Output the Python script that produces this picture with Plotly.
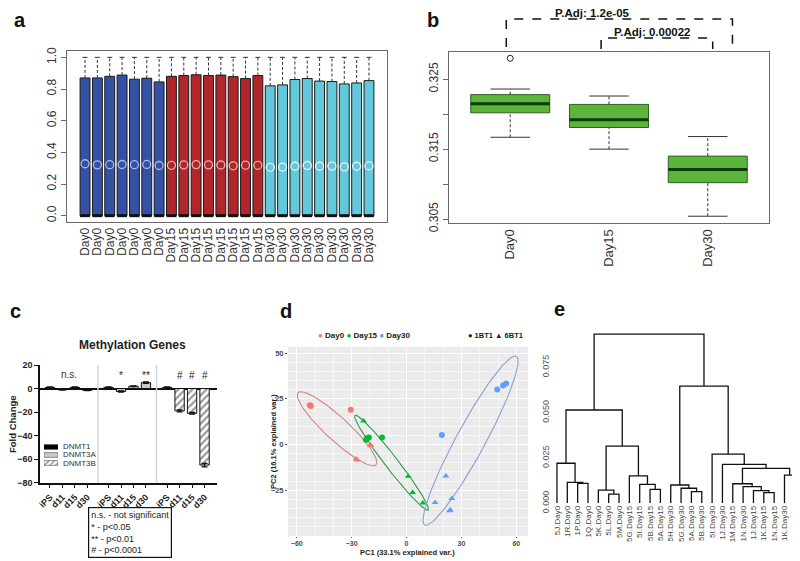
import numpy as np
import plotly.graph_objects as go

# the page body keeps its default 8px margin, so the figure is drawn 8px in
OFF = 8
W, H = 800 - OFF, 561 - OFF
FONT = "Liberation Sans, Arial, Helvetica, sans-serif"


def fx(p):  # window pixel x -> paper
    return (p - OFF) / W


def fy(p):  # window pixel y (from top) -> paper
    return 1 - (p - OFF) / H


# -----------------------------------------------------------------------------
# data
# -----------------------------------------------------------------------------
# a : per-sample beta-value boxplots
a_labels = ["Day0"] * 7 + ["Day15"] * 8 + ["Day30"] * 9
a_q1 = [0.0] * 24
a_median = [0.0] * 24
a_q3 = [0.870, 0.870, 0.880, 0.888, 0.862, 0.868, 0.845,
        0.880, 0.885, 0.890, 0.885, 0.888, 0.878, 0.866, 0.885,
        0.820, 0.826, 0.860, 0.866, 0.850, 0.847, 0.832, 0.838, 0.853]
a_lower = [0.0] * 24
a_upper = [1.0] * 24
a_mean = [0.328, 0.321, 0.322, 0.323, 0.322, 0.3236, 0.3167,
          0.318, 0.321, 0.3226, 0.321, 0.320, 0.315, 0.319, 0.318,
          0.3054, 0.307, 0.312, 0.3168, 0.312, 0.313, 0.308, 0.312, 0.314]
a_fill = {"Day0": "#3551a4", "Day15": "#b1262a", "Day30": "#62c8da"}
a_mean_col = {"Day0": "#a9b8ec", "Day15": "#eeaaaa", "Day30": "#e4f6fa"}

# b : mean methylation per day
b_groups = ["Day0", "Day15", "Day30"]
b_lower = [0.3167, 0.3150, 0.3054]
b_q1 = [0.3202, 0.3181, 0.3102]
b_median = [0.3215, 0.3192, 0.3121]
b_q3 = [0.3228, 0.3214, 0.3140]
b_upper = [0.3236, 0.3226, 0.3168]
b_out_group = ["Day0"]
b_out_value = [0.3280]
b_tests = [("Day0", "Day30", "P.Adj: 1.2e-05"), ("Day15", "Day30", "P.Adj: 0.00022")]

# c : methylation genes fold change
c_genes = ["DNMT1", "DNMT3A", "DNMT3B"]
c_stages = ["iPS", "d11", "d15", "d30"]
c_dnmt1 = [1.0, -1.0, 1.0, -1.5]
c_dnmt3a = [1.0, -2.5, 2.0, 5.0]
c_dnmt3b = [1.0, -19.0, -21.0, -65.0]
c_err1 = [0.3, 0.3, 0.3, 0.3]
c_err3a = [0.3, 0.6, 0.3, 0.6]
c_err3b = [0.3, 0.8, 0.8, 1.5]
c_sig1 = "n.s."
c_sig3a = ["", "*", "", "**"]
c_sig3b = ["", "#", "#", "#"]

# d : PCA
d_pc1 = [-52.9, -52.3, -30.5, -27.6, -27.0, -19.4, -19.9,
         -23.5, -22.2, -21.4, -20.6, -13.4, 0.9, 3.3, 8.9,
         49.6, 52.8, 54.4, 19.3, 21.5, 15.6, 24.8, 23.5, 23.9]
d_pc2 = [21.5, 21.0, 19.0, -7.9, -8.4, -0.6, -0.2,
         12.8, 2.6, 3.4, 3.9, 3.8, -17.3, -26.2, -31.9,
         30.1, 32.3, 33.3, 5.2, -17.2, -31.7, -29.5, -36.2, -35.8]
d_day = ["Day0"] * 7 + ["Day15"] * 8 + ["Day30"] * 9
d_batch = ["1BT1", "1BT1", "1BT1", "6BT1", "6BT1", "6BT1", "6BT1",
           "6BT1", "1BT1", "1BT1", "1BT1", "1BT1", "6BT1", "6BT1", "6BT1",
           "1BT1", "1BT1", "1BT1", "1BT1", "6BT1", "6BT1", "6BT1", "6BT1", "6BT1"]
d_days = ["Day0", "Day15", "Day30"]
d_colors = {"Day0": "#F8766D", "Day15": "#00BA38", "Day30": "#619CFF"}
d_ell_colors = {"Day0": "#d4877f", "Day15": "#2e9b4a", "Day30": "#86a2d2"}
# ellipse: centre and two conjugate half-axes (PC units)
d_ell_cx = [-38.0, -8.2, 35.0]
d_ell_cy = [8.6, -9.9, 2.1]
d_ell_ux = [-21.3, -20.0, 25.0]
d_ell_uy = [19.7, 25.9, 46.1]
d_ell_vx = [4.4, 2.8, 7.0]
d_ell_vy = [4.6, 2.1, -3.7]

# e : hierarchical clustering
e_leaves = ["5J.Day0", "1R.Day0", "1P.Day0", "1Q.Day0", "5K.Day0", "5L.Day0", "5M.Day0",
            "5G.Day15", "5I.Day15", "5B.Day15", "5A.Day15", "5H.Day30", "5G.Day30",
            "5A.Day30", "5B.Day30", "5I.Day30", "1J.Day30", "1M.Day15", "1N.Day30",
            "1J.Day15", "1K.Day15", "1N.Day15", "1K.Day30", "1M.Day30"]
# merges, hclust style: negative = leaf (1-based order), positive = earlier merge
e_merge = [(-6, -7), (-21, -22), (-14, -15), (-20, 2), (-5, 1), (-10, -11),
           (-13, 3), (-19, 4), (-12, 7), (-9, 6), (-3, -4), (-18, 8), (-2, 11),
           (-8, 10), (-23, -24), (12, 15), (-17, 16), (-1, 13), (-16, 17),
           (5, 14), (18, 20), (9, 19), (21, 22)]
e_height = [0.0051, 0.0059, 0.0064, 0.0070, 0.0073, 0.0077, 0.0083, 0.0092,
            0.0101, 0.0105, 0.0110, 0.0108, 0.0116, 0.0151, 0.0156, 0.0193,
            0.0215, 0.0221, 0.0272, 0.0316, 0.0515, 0.0647, 0.0934]

fig = go.Figure()


def note(x, y, text, size, color="#222", **kw):
    # paper-placed text; anchors given explicitly so plotly's "auto" does not move it
    opts = dict(xanchor="center", yanchor="middle")
    opts.update(kw)
    fig.add_annotation(x=fx(x), y=fy(y), xref="paper", yref="paper", text=text, showarrow=False,
                       font=dict(size=size, color=color), **opts)


def add_boxes(xs, lo, q1, med, q3, hi, fill, edge, med_col, med_w, width, xa, ya):
    fig.add_trace(go.Bar(x=xs, y=[b - a for a, b in zip(q1, q3)], base=q1, width=width,
                         marker=dict(color=fill, line=dict(color=edge, width=1)),
                         xaxis=xa, yaxis=ya, showlegend=False, hoverinfo="skip"))
    wx, wy, cx, cy, mx, my = [], [], [], [], [], []
    for x, a, b, m, c, d in zip(xs, lo, q1, med, q3, hi):
        wx += [x, x, None, x, x, None]
        wy += [a, b, None, c, d, None]
        cx += [x - width / 4, x + width / 4, None, x - width / 4, x + width / 4, None]
        cy += [a, a, None, d, d, None]
        mx += [x - width / 2, x + width / 2, None]
        my += [m, m, None]
    fig.add_trace(go.Scatter(x=wx, y=wy, mode="lines", line=dict(color="#333", width=1, dash="3px,2px"),
                             xaxis=xa, yaxis=ya, showlegend=False, hoverinfo="skip"))
    fig.add_trace(go.Scatter(x=cx, y=cy, mode="lines", line=dict(color="#333", width=1),
                             xaxis=xa, yaxis=ya, showlegend=False, hoverinfo="skip"))
    fig.add_trace(go.Scatter(x=mx, y=my, mode="lines", line=dict(color=med_col, width=med_w),
                             xaxis=xa, yaxis=ya, showlegend=False, hoverinfo="skip"))


# ---- a
a_x = list(range(1, len(a_labels) + 1))
add_boxes(a_x, a_lower, a_q1, a_median, a_q3, a_upper, [a_fill[g] for g in a_labels],
          "#1a1a1a", "#111", 3, 0.8, "x", "y")
fig.add_trace(go.Scatter(x=a_x, y=a_mean, mode="markers",
                         marker=dict(symbol="circle-open", size=8, line=dict(width=1.3),
                                     color=[a_mean_col[g] for g in a_labels]),
                         xaxis="x", yaxis="y", showlegend=False, hoverinfo="skip"))

# ---- b
b_x = [1, 2, 3]
add_boxes(b_x, b_lower, b_q1, b_median, b_q3, b_upper, "#5cb53a", "#2f5f22", "#0c3a0c", 3,
          0.8, "x2", "y2")
fig.add_trace(go.Scatter(x=[b_groups.index(g) + 1 for g in b_out_group], y=b_out_value,
                         mode="markers", marker=dict(symbol="circle-open", size=6, color="#222",
                                                     line=dict(width=1)),
                         xaxis="x2", yaxis="y2", showlegend=False, hoverinfo="skip"))
# (left offset, right offset, label offset from left group, bracket top px, leg bottom px)
bracket_px = [(-0.04, 0.25, 0.83, 19, 47), (-0.08, 0.05, 0.44, 38, 49)]
for (g1, g2, txt), (o1, o2, ol, top, leg) in zip(b_tests, bracket_px):
    x0 = b_groups.index(g1) + 1 + o1
    x1 = b_groups.index(g2) + 1 + o2
    fig.add_shape(type="path", xref="x2", yref="paper",
                  path=f"M {x0} {fy(leg)} L {x0} {fy(top)} L {x1} {fy(top)} L {x1} {fy(leg)}",
                  line=dict(color="#111", width=1.5, dash="dash"))
    fig.add_annotation(x=b_groups.index(g1) + 1 + ol, y=fy(top + 2), xref="x2", yref="paper",
                       xanchor="center", yanchor="bottom", text=f"<b>{txt}</b>", showarrow=False,
                       font=dict(size=11.5, color="#111"))

# ---- c
c_pos = [[g * 4.7 + i for i in range(len(c_stages))] for g in range(len(c_genes))]
c_vals = [c_dnmt1, c_dnmt3a, c_dnmt3b]
c_errs = [c_err1, c_err3a, c_err3b]
c_cols = ["#000000", "#c9c9c9", "#ffffff"]
c_pats = ["", "", "/"]
for g, gene in enumerate(c_genes):
    fig.add_trace(go.Bar(x=c_pos[g], y=c_vals[g], width=0.75, name=gene,
                         marker=dict(color=c_cols[g], line=dict(color="#111", width=1),
                                     pattern=dict(shape=c_pats[g], fgcolor="#333", size=5, solidity=0.45)),
                         error_y=dict(type="data", array=c_errs[g], color="#111", thickness=1.3, width=3),
                         xaxis="x3", yaxis="y3", showlegend=False, hoverinfo="skip"))
for g in range(len(c_genes) - 1):
    sep = (c_pos[g][-1] + c_pos[g + 1][0]) / 2
    fig.add_shape(type="line", xref="x3", yref="y3 domain", x0=sep, x1=sep, y0=0, y1=1,
                  line=dict(color="#d4d4d4", width=1.5))
fig.add_annotation(x=(c_pos[0][1] + c_pos[0][2]) / 2, y=12, xref="x3", yref="y3", text=c_sig1,
                   showarrow=False, font=dict(size=10, color="#333"))
for g, sig in ((1, c_sig3a), (2, c_sig3b)):
    for x, s in zip(c_pos[g], sig):
        if s:
            fig.add_annotation(x=x, y=11, xref="x3", yref="y3", text=s, showarrow=False,
                               font=dict(size=10, color="#222"))
# legend swatches
fig.add_trace(go.Bar(x=[1, 1, 1], y=[0, 1, 2], orientation="h", width=0.6,
                     marker=dict(color=["#000000", "#c9c9c9", "#ffffff"], line=dict(color="#333", width=0.5),
                                 pattern=dict(shape=c_pats, fgcolor="#333", size=4, solidity=0.45)),
                     xaxis="x6", yaxis="y6", showlegend=False, hoverinfo="skip"))
for k, gene in enumerate(c_genes):
    note(61, 447 + 8 * k, gene, 8, "#333", xanchor="left")
note(132, 345, "<b>Methylation Genes</b>", 12)
note(12, 424, "<b>Fold Change</b>", 9.5, textangle=-90)
note(88, 507, "n.s. - not significant<br>* - p&lt;0.05<br>** - p&lt;0.01<br># - p&lt;0.0001", 9,
     xanchor="left", yanchor="top", align="left", bordercolor="#111", borderwidth=1.2, borderpad=2,
     bgcolor="white")

# ---- d
fig.add_shape(type="rect", xref="x4 domain", yref="y4 domain", x0=0, x1=1, y0=0, y1=1,
              fillcolor="#ebebeb", line=dict(width=0), layer="below")
t = np.linspace(0, 2 * np.pi, 120)
for k, day in enumerate(d_days):
    ex = d_ell_cx[k] + np.cos(t) * d_ell_ux[k] + np.sin(t) * d_ell_vx[k]
    ey = d_ell_cy[k] + np.cos(t) * d_ell_uy[k] + np.sin(t) * d_ell_vy[k]
    fig.add_trace(go.Scatter(x=ex, y=ey, mode="lines", line=dict(color=d_ell_colors[day], width=1.1),
                             xaxis="x4", yaxis="y4", showlegend=False, hoverinfo="skip"))
fig.add_trace(go.Scatter(x=d_pc1, y=d_pc2, mode="markers",
                         marker=dict(size=6, color=[d_colors[d] for d in d_day],
                                     symbol=["circle" if b == "1BT1" else "triangle-up" for b in d_batch]),
                         xaxis="x4", yaxis="y4", showlegend=False, hoverinfo="skip"))
leg = " ".join(f"<span style='color:{d_colors[d]}'>●</span> {d}" for d in d_days)
note(316, 335, f"<b>{leg}</b>", 8, xanchor="left")
note(466, 335, "<b>● 1BT1 ▲ 6BT1</b>", 7.5, xanchor="left")
note(407, 552.5, "<b>PC1 (33.1% explained var.)</b>", 7.5)
note(273, 442, "<b>PC2 (16.1% explained var.)</b>", 7.5, textangle=-90)

# ---- e
n = len(e_leaves)
node_x, node_h = [], []
lx, ly = [], []


def pos(ref):
    if ref < 0:
        return float(-ref), 0.0
    return node_x[ref - 1], node_h[ref - 1]


for (r1, r2), h in zip(e_merge, e_height):
    x1, h1 = pos(r1)
    x2, h2 = pos(r2)
    lx += [x1, x1, x2, x2, None]
    ly += [h1, h, h, h2, None]
    node_x.append((x1 + x2) / 2)
    node_h.append(h)
fig.add_trace(go.Scatter(x=lx, y=ly, mode="lines", line=dict(color="#111", width=1.3),
                         xaxis="x5", yaxis="y5", showlegend=False, hoverinfo="skip"))

# panel letters (kept just inside the drawable area)
for letter, (x, y) in zip("abcde", [(20, 20), (433, 20), (15, 311), (286, 311), (559, 309)]):
    note(x, y, f"<b>{letter}</b>", 20, "#111", borderpad=0)

r_axis = dict(showline=True, mirror=True, linecolor="#6a6a6a", linewidth=1, showgrid=False,
              zeroline=False, automargin=False, tickfont=dict(size=12, color="#333"))
fig.update_layout(
    width=W, height=H, margin=dict(l=0, r=0, t=0, b=0, autoexpand=False),
    paper_bgcolor="white", plot_bgcolor="white", barmode="overlay", showlegend=False,
    font=dict(family=FONT, color="#222"),
    xaxis=dict(r_axis, domain=[fx(67), fx(387)], range=[-0.46, 25.46], tickvals=a_x, ticktext=a_labels,
               tickangle=-90, ticks="", anchor="y"),
    yaxis=dict(r_axis, domain=[fy(222), fy(51)], range=[-0.04, 1.04], tickvals=[0, 0.2, 0.4, 0.6, 0.8, 1.0],
               ticktext=["0.0", "0.2", "0.4", "0.6", "0.8", "1.0"], tickangle=-90, ticks="outside",
               ticklen=5, tickcolor="#6a6a6a", anchor="x"),
    xaxis2=dict(r_axis, domain=[fx(449), fx(769)], range=[0.38, 3.62], tickvals=b_x, ticktext=b_groups,
                tickangle=-90, ticks="", anchor="y2", tickfont=dict(size=13, color="#333")),
    yaxis2=dict(r_axis, domain=[fy(223), fy(52)], range=[0.30443, 0.3289],
                tickvals=[0.305, 0.310, 0.315, 0.320, 0.325], ticktext=["0.305", "", "0.315", "", "0.325"],
                tickangle=-90, ticks="outside", ticklen=5, tickcolor="#6a6a6a", anchor="x2"),
    xaxis3=dict(domain=[fx(40), fx(217)], range=[-0.8, 13.4], tickvals=sum(c_pos, []),
                ticktext=c_stages * len(c_genes), tickangle=-45, ticks="outside", ticklen=4, tickwidth=1.3,
                tickcolor="#111", showline=True, linecolor="#111", linewidth=1.5, showgrid=False,
                zeroline=False, automargin=False, tickfont=dict(size=9, color="#222", weight="bold"),
                anchor="y3"),
    yaxis3=dict(domain=[fy(482.7), fy(365)], range=[-80, 20], tickvals=[-80, -60, -40, -20, 0, 20],
                ticks="outside", ticklen=4, tickwidth=1.3, tickcolor="#111", showline=True, linecolor="#111",
                linewidth=1.5, showgrid=False, zeroline=True, zerolinecolor="#111", zerolinewidth=1.5,
                automargin=False, tickfont=dict(size=9, color="#222", weight="bold"), anchor="x3"),
    xaxis4=dict(domain=[fx(288), fx(528)], range=[-64.8, 66.4], tickvals=[-60, -30, 0, 30, 60],
                ticks="outside", ticklen=1, tickcolor="#555", showline=False, zeroline=False,
                gridcolor="white", gridwidth=1, minor=dict(showgrid=True, gridcolor="#f6f6f6", gridwidth=0.6),
                automargin=False, tickfont=dict(size=7, color="#4d4d4d", weight="bold"), anchor="y4"),
    yaxis4=dict(domain=[fy(536), fy(347)], range=[-50, 53.3], tickvals=[-25, 0, 25, 50],
                ticks="outside", ticklen=2, tickcolor="#555", showline=False, zeroline=False,
                gridcolor="white", gridwidth=1, minor=dict(showgrid=True, gridcolor="#f6f6f6", gridwidth=0.6),
                automargin=False, tickfont=dict(size=7.5, color="#4d4d4d", weight="bold"), anchor="x4"),
    xaxis5=dict(domain=[fx(551.8), 1.0], range=[0.5, n + 0.5], tickvals=list(range(1, n + 1)),
                ticktext=e_leaves, tickangle=-90, ticks="", showline=False, showgrid=False, zeroline=False,
                automargin=False, tickfont=dict(size=8, color="#444"), anchor="y5"),
    yaxis5=dict(domain=[fy(503.3), fy(331.2)], range=[0, 0.095], tickvals=[0, 0.025, 0.05, 0.075],
                ticktext=["0.000", "0.025", "0.050", "0.075"], tickangle=-90, ticks="", showline=False,
                showgrid=False, zeroline=False, automargin=False, tickfont=dict(size=9, color="#555"),
                anchor="x5"),
    xaxis6=dict(domain=[fx(44), fx(58)], range=[0, 1], visible=False, anchor="y6"),
    yaxis6=dict(domain=[fy(467), fy(443)], range=[2.5, -0.5], visible=False, anchor="x6"),
)

fig.write_html("out.html")
